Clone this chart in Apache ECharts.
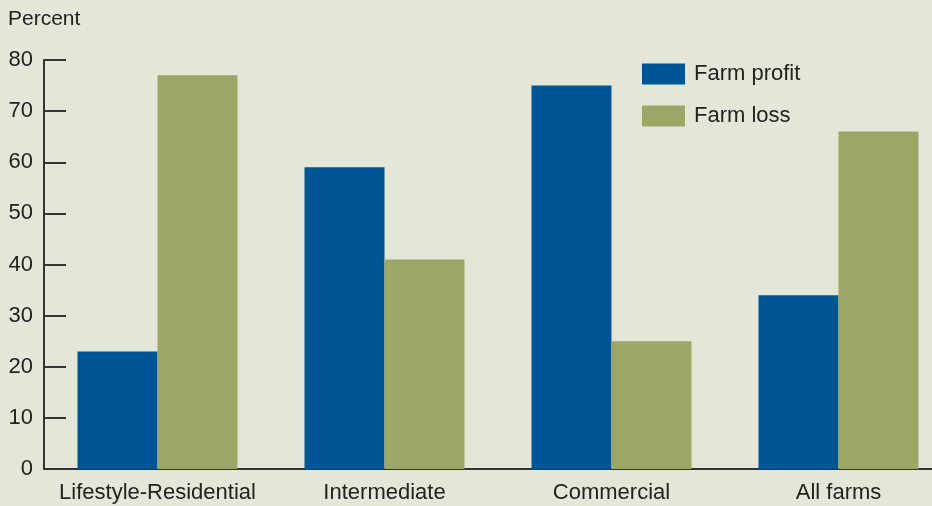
<!DOCTYPE html>
<html><head><meta charset="utf-8">
<script src="https://cdn.jsdelivr.net/npm/echarts@6/dist/echarts.min.js"></script>
<style>html,body{margin:0;padding:0;background:#e4e7d8;overflow:hidden}#c{width:952px;height:506px}</style>
</head><body><div id="c"></div>
<script>
const categories = ['Lifestyle-Residential', 'Intermediate', 'Commercial', 'All farms'];
const farmProfit = [23, 59, 75, 34];
const farmLoss = [77, 41, 25, 66];
const yTicks = [0, 10, 20, 30, 40, 50, 60, 70, 80];

const chart = echarts.init(document.getElementById('c'));
const font = 'Liberation Sans, Arial, Helvetica, sans-serif';
chart.setOption({
  backgroundColor: '#e4e7d8',
  animation: false,
  textStyle: { fontFamily: font },
  graphic: [{ type: 'text', left: 8, top: 9, style: { text: 'Percent', fontSize: 21, fontFamily: font, fill: '#222' } }],
  legend: {
    orient: 'vertical', left: 642, top: 63, padding: 0,
    icon: 'rect',
    itemWidth: 43, itemHeight: 21, itemGap: 20,
    textStyle: { fontSize: 22, color: '#222', fontFamily: font, padding: [0, 0, 0, 4] },
    data: ['Farm profit', 'Farm loss']
  },
  grid: { left: 44, top: 60, right: 0, height: 409, outerBoundsMode: 'none' },
  xAxis: {
    type: 'category', data: categories,
    axisLine: { lineStyle: { color: '#333', width: 2 } },
    axisTick: { show: false },
    axisLabel: { fontSize: 22, color: '#222', margin: 13, fontFamily: font, interval: 0 }
  },
  yAxis: {
    type: 'value', min: 0, max: 80, interval: 10,
    axisLine: { show: true, lineStyle: { color: '#333', width: 2 } },
    axisTick: { show: true, inside: true, length: 22, lineStyle: { color: '#333', width: 2 } },
    splitLine: { show: false },
    axisLabel: { fontSize: 22, color: '#222', margin: 11, fontFamily: font,
      formatter: v => yTicks.includes(v) ? String(v) : '' }
  },
  series: [
    { name: 'Farm profit', type: 'bar', data: farmProfit, barWidth: 80, barGap: '0%', itemStyle: { color: '#005595' } },
    { name: 'Farm loss', type: 'bar', data: farmLoss, barWidth: 80, barGap: '0%', itemStyle: { color: '#9ca667' } }
  ]
});
</script></body></html>
